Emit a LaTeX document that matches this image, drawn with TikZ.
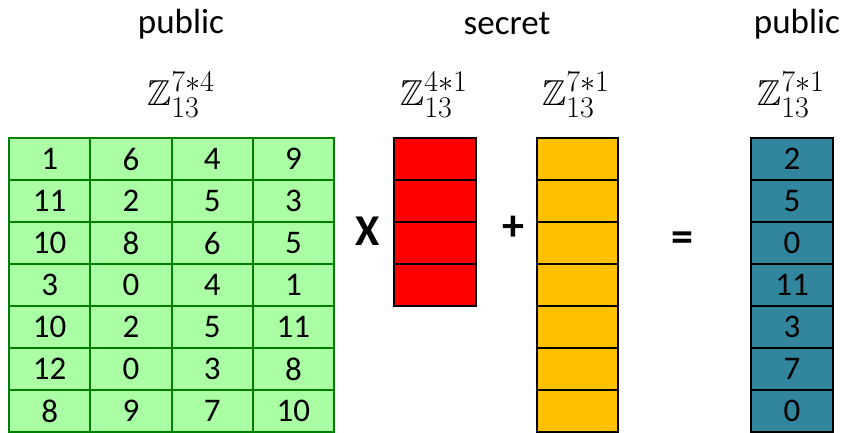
\documentclass[tikz,border=0pt]{standalone}
\usepackage{amssymb}
\usepackage{graphicx}
\usepackage[no-math]{fontspec}
\setmainfont{Carlito}
\definecolor{gridgreen}{RGB}{0,128,0}
\definecolor{cellgreen}{RGB}{170,255,165}
\definecolor{secretred}{RGB}{255,0,0}
\definecolor{noiseyellow}{RGB}{255,192,0}
\definecolor{resultteal}{RGB}{49,133,156}
% math fonts stop at 24.88pt, so the set symbols are enlarged as a whole
\newcommand{\setsym}[1]{\scalebox{1.45}{\fontsize{24.88}{30}\selectfont$#1$}}
\begin{document}
\begin{tikzpicture}[x=1pt,y=-1pt,
  cell/.style={draw, line width=2pt, inner sep=0pt, minimum height=42pt,
    font=\fontsize{33}{38}\selectfont},
  matcell/.style={cell, draw=gridgreen, fill=cellgreen, minimum width=81.25pt},
  colcell/.style={cell, draw=black, minimum width=82pt},
  caption/.style={anchor=base, font=\fontsize{35}{40}\selectfont},
  setlabel/.style={anchor=base, inner sep=0pt},
  operator/.style={font=\fontsize{44}{48}\selectfont\bfseries}]
\clip (0,0) rectangle (842,432);

% headings
\node[caption] (pubA) at (181,33) {public};
\node[caption] (sec)  at (507,34) {secret};
\node[caption] (pubB) at (797,33) {public};

% sets the matrices live in
\node[setlabel] (setA) at (181,105) {\setsym{\mathbb{Z}_{13}^{7*4}}};
\node[setlabel] (sets) at (434,105) {\setsym{\mathbb{Z}_{13}^{4*1}}};
\node[setlabel] (sete) at (576,105) {\setsym{\mathbb{Z}_{13}^{7*1}}};
\node[setlabel] (setb) at (791,105) {\setsym{\mathbb{Z}_{13}^{7*1}}};

% public matrix A
\foreach \r/\row in {1/{1,6,4,9},2/{11,2,5,3},3/{10,8,6,5},4/{3,0,4,1},
                     5/{10,2,5,11},6/{12,0,3,8},7/{8,9,7,10}} {
  \foreach \v [count=\c] in \row {
    \node[matcell] (A-\r-\c) at ({9+81.25*(\c-0.5)},{138+42*(\r-0.5)}) {\v};
  }
}

% secret vector s
\foreach \r in {1,...,4}
  \node[colcell, fill=secretred] (s-\r) at (435,{138+42*(\r-0.5)}) {};

% error vector e
\foreach \r in {1,...,7}
  \node[colcell, fill=noiseyellow, minimum width=81pt] (e-\r) at (577.5,{138+42*(\r-0.5)}) {};

% result vector b
\foreach \v [count=\r] in {2,5,0,11,3,7,0}
  \node[colcell, fill=resultteal] (b-\r) at (792,{138+42*(\r-0.5)}) {\v};

% operators
\node[operator] (times) at (368,231) {X};
\node[operator] (plus)  at (513,228) {+};
\node[operator] (equals) at (682,242) {=};
\end{tikzpicture}
\end{document}
